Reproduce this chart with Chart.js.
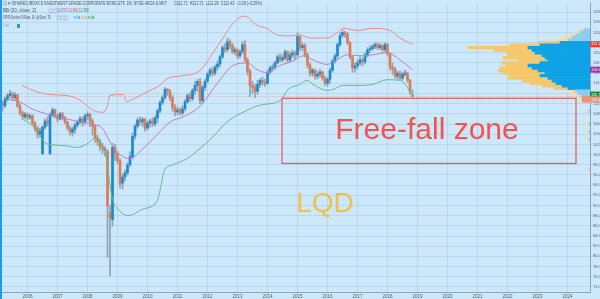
<!DOCTYPE html>
<html>
<head>
<meta charset="utf-8">
<script src="https://cdn.jsdelivr.net/npm/chart.js@4.4.0/dist/chart.umd.min.js"></script>
<style>
  html, body { margin: 0; padding: 0; background: #cde7fb; }
  canvas { display: block; }
</style>
</head>
<body>
<canvas id="chart" width="600" height="299"></canvas>
<script>
// months are counted from Jan 2005 (Jan 2006 = 12); first candle is Feb 2005
const firstMonth = 1;

const yearTicks = [12, 24, 36, 48, 60, 72, 84, 96, 108, 120, 132, 144, 156, 168, 180, 192, 204, 216, 228];
const yearLabels = ['2006', '2007', '2008', '2009', '2010', '2011', '2012', '2013', '2014', '2015',
                    '2016', '2017', '2018', '2019', '2020', '2021', '2022', '2023', '2024'];

// monthly OHLC, one row per year
const opens = [
  111.0, 110.0, 109.6, 110.9, 111.6, 112.0, 111.2, 111.7, 109.6, 108.2, 107.4,
  107.9, 107.3, 107.6, 106.2, 105.2, 104.0, 100.2, 105.4, 106.6, 100.2, 107.8, 108.8,
  107.6, 107.0, 108.0, 107.2, 106.4, 105.2, 104.4, 105.0, 105.8, 106.4, 107.0, 106.4,
  107.6, 107.9, 106.6, 105.6, 103.2, 102.6, 101.6, 101.2, 100.6, 88.6, 87.2, 101.4,
  100.2, 98.8, 94.4, 95.6, 96.4, 98.0, 99.6, 103.6, 105.6, 106.8, 106.4, 106.9,
  105.2, 106.2, 106.6, 106.0, 107.2, 108.6, 110.2, 111.2, 112.8, 112.4, 111.2, 109.2,
  108.4, 108.8, 108.2, 109.0, 110.4, 111.6, 111.0, 112.6, 113.6, 114.4, 110.6, 113.2,
  114.4, 115.8, 116.6, 116.0, 117.2, 117.8, 119.2, 121.0, 120.6, 122.2, 121.4, 120.2,
  120.6, 119.4, 120.2, 121.6, 118.6, 116.4, 113.6, 113.2, 112.4, 113.8, 114.6, 114.2,
  114.0, 116.2, 117.0, 117.2, 118.0, 119.2, 118.6, 119.0, 120.2, 118.6, 119.6, 120.0,
  119.6, 123.2, 121.0, 121.4, 119.6, 117.6, 116.0, 116.6, 115.4, 115.8, 116.2, 115.0,
  114.0, 114.8, 116.6, 118.4, 119.4, 121.6, 123.4, 124.0, 123.6, 122.0, 119.2, 117.0,
  117.4, 118.0, 118.6, 118.2, 119.6, 120.6, 120.8, 121.2, 121.6, 121.0, 121.4, 120.6,
  121.6, 119.8, 117.2, 116.8, 115.4, 116.0, 115.0, 115.8, 116.0, 114.6, 111.71
];
const highs = [
  111.6, 110.5, 111.3, 112.0, 112.6, 112.3, 112.2, 111.9, 110.0, 108.6, 108.3,
  108.2, 108.0, 107.8, 106.5, 105.5, 105.2, 105.6, 107.0, 107.4, 108.2, 109.2, 109.0,
  107.9, 108.3, 108.3, 107.5, 106.6, 105.6, 105.4, 106.2, 106.8, 107.5, 107.4, 108.0,
  108.4, 108.1, 107.0, 105.9, 103.8, 103.0, 102.2, 101.6, 101.0, 90.0, 102.2, 102.0,
  100.6, 99.2, 96.2, 97.0, 98.4, 100.6, 104.2, 106.0, 107.2, 107.4, 107.3, 107.1,
  106.6, 107.0, 107.2, 107.6, 109.0, 110.6, 111.6, 113.2, 113.0, 112.8, 111.6, 109.8,
  109.4, 109.2, 109.6, 110.8, 112.0, 112.2, 113.0, 114.4, 114.8, 115.0, 113.6, 114.8,
  116.2, 117.0, 117.2, 117.6, 118.4, 119.6, 121.4, 121.8, 122.9, 122.6, 121.8, 121.0,
  120.8, 120.6, 122.2, 122.4, 119.0, 116.8, 114.4, 113.8, 114.6, 115.0, 115.2, 114.8,
  116.6, 117.4, 117.8, 118.4, 119.6, 119.8, 119.6, 120.6, 120.4, 120.2, 120.6, 120.4,
  123.9, 123.4, 122.0, 121.8, 120.0, 118.0, 117.0, 116.8, 116.4, 116.8, 116.4, 115.4,
  115.2, 117.0, 118.8, 119.8, 122.0, 124.0, 124.4, 124.2, 124.0, 122.2, 119.4, 118.0,
  118.6, 119.2, 119.0, 120.0, 121.0, 121.4, 121.6, 122.0, 122.0, 121.8, 121.6, 122.0,
  121.8, 120.0, 118.0, 117.2, 116.4, 116.4, 116.2, 116.6, 116.2, 114.8, 112.71
];
const lows = [
  109.4, 108.6, 109.2, 110.5, 111.2, 110.6, 110.8, 109.2, 107.8, 107.0, 107.0,
  106.8, 106.9, 105.8, 104.6, 103.2, 103.4, 100.0, 105.0, 105.6, 100.0, 107.4, 107.2,
  106.4, 106.8, 106.8, 106.0, 104.8, 103.8, 103.6, 104.2, 105.4, 106.0, 105.6, 105.9,
  106.8, 105.5, 103.8, 102.4, 101.8, 100.8, 100.2, 99.8, 79.8, 76.2, 86.0, 98.8,
  98.2, 93.4, 93.2, 94.8, 96.0, 97.6, 99.2, 103.0, 105.2, 105.8, 105.6, 104.6,
  104.8, 105.4, 105.6, 105.6, 106.2, 108.2, 109.8, 110.8, 111.6, 110.6, 108.6, 107.6,
  107.8, 107.8, 107.8, 108.6, 110.0, 110.4, 110.6, 111.8, 112.4, 110.0, 110.0, 112.6,
  114.0, 115.2, 115.4, 115.6, 116.6, 117.2, 118.8, 120.0, 120.2, 120.8, 119.8, 119.6,
  118.8, 119.0, 119.8, 118.2, 115.6, 111.4, 112.0, 111.2, 111.8, 113.2, 113.6, 113.4,
  113.8, 115.8, 116.4, 116.8, 117.8, 118.2, 118.2, 118.6, 118.0, 118.2, 119.0, 118.6,
  119.2, 120.4, 120.4, 119.2, 117.0, 115.4, 115.4, 114.8, 114.8, 115.2, 114.6, 113.6,
  113.4, 114.0, 116.2, 118.0, 119.0, 121.2, 123.0, 123.0, 121.6, 118.8, 116.2, 116.2,
  116.8, 117.6, 117.4, 117.8, 119.2, 120.0, 120.4, 120.8, 120.6, 120.6, 120.0, 120.2,
  119.4, 116.6, 115.8, 115.0, 114.8, 114.6, 114.6, 115.4, 114.2, 111.8, 111.28
];
const closes = [
  110.0, 109.6, 110.9, 111.6, 112.0, 111.2, 111.7, 109.6, 108.2, 107.4, 107.9,
  107.3, 107.6, 106.2, 105.2, 104.0, 104.6, 105.4, 106.6, 106.0, 107.8, 108.8, 107.6,
  107.0, 108.0, 107.2, 106.4, 105.2, 104.4, 105.0, 105.8, 106.4, 107.0, 106.4, 107.6,
  107.9, 106.6, 105.6, 103.2, 102.6, 101.6, 101.2, 100.8, 89.9, 87.6, 101.4, 100.2,
  98.8, 94.4, 95.6, 96.4, 98.0, 99.6, 103.6, 105.6, 106.8, 106.4, 106.9, 105.2,
  106.2, 106.6, 106.0, 107.2, 108.6, 110.2, 111.2, 112.8, 112.4, 111.2, 109.2, 108.4,
  108.8, 108.2, 109.0, 110.4, 111.6, 111.0, 112.6, 113.6, 114.4, 110.6, 113.2, 114.4,
  115.8, 116.6, 116.0, 117.2, 117.8, 119.2, 121.0, 120.6, 122.2, 121.4, 120.2, 120.6,
  119.4, 120.2, 121.6, 118.6, 116.4, 113.6, 113.2, 112.4, 113.8, 114.6, 114.2, 114.0,
  116.2, 117.0, 117.2, 118.0, 119.2, 118.6, 119.0, 120.2, 118.6, 119.6, 120.0, 119.6,
  123.2, 121.0, 121.4, 119.6, 117.6, 116.0, 116.6, 115.4, 115.8, 116.2, 115.0, 114.0,
  114.8, 116.6, 118.4, 119.4, 121.6, 123.4, 124.0, 123.6, 122.0, 119.2, 117.0, 117.4,
  118.0, 118.6, 118.2, 119.6, 120.6, 120.8, 121.2, 121.6, 121.0, 121.4, 120.6, 121.6,
  119.8, 117.2, 116.8, 115.4, 116.0, 115.0, 115.8, 116.0, 114.6, 112.4, 111.43
];

// Bollinger bands (month, price)
const bbUpperM = [9.8, 14.2, 21, 27.8, 33, 38.2, 42.2, 43.8, 45, 50.2, 51.8, 54.2, 61, 65, 67.8, 74.2, 81, 86.2,
                  90.2, 94.2, 99, 103.8, 107.8, 111.8, 117, 121, 125, 131.8, 135.8, 138.2, 143.8, 150.2, 157, 161, 166];
const bbUpperP = [113.6, 112.6, 111.8, 111.6, 110.7, 108.7, 108.3, 109.3, 111.6, 111.8, 110.4, 110.9, 112.6, 113.6,
                  114.9, 115.5, 116.5, 120.0, 122.9, 125.8, 127.2, 125.4, 124.8, 123.5, 123.3, 123.5, 122.9, 122.9,
                  123.9, 124.8, 124.4, 124.8, 124.4, 122.9, 121.67];
const bbMidM = [4.2, 9, 14.2, 21, 27.8, 33, 38.2, 42.2, 45, 49, 53, 57, 61, 65, 69, 74.2, 81, 89, 94.2, 99.8,
                103.8, 107.8, 113, 118.2, 122.2, 126.2, 131.8, 135.8, 139.8, 145, 150.2, 155.8, 161, 166];
const bbMidP = [110.9, 110.3, 108.9, 107.8, 107.0, 106.4, 106.0, 105.0, 102.5, 100.0, 99.2, 100.6, 102.5, 104.5,
                106.4, 107.4, 109.5, 114.7, 117.5, 118.0, 116.7, 116.1, 117.5, 118.4, 119.4, 118.6, 117.7, 118.6,
                119.6, 119.4, 119.6, 120.0, 118.6, 116.68];
const bbLowM = [9.8, 14.2, 15.8, 19.8, 22.2, 27.8, 31.8, 35.8, 39.8, 41.8, 43.8, 45, 46.2, 47.8, 52.2, 58.2, 63.8,
                65.4, 66.6, 70.2, 75.8, 81, 87, 91.8, 99.8, 105, 113.8, 115.8, 121, 123.8, 126.2, 131.8, 134.2,
                138.2, 145, 150.2, 155.8, 161, 166];
const bbLowP = [107.0, 105.6, 104.5, 102.1, 101.9, 101.7, 101.4, 102.1, 103.5, 101.6, 98.6, 93.8, 90.9, 89.5, 88.0,
                89.3, 90.9, 93.8, 96.7, 98.0, 99.2, 101.2, 103.9, 106.4, 108.7, 109.7, 110.9, 112.6, 113.8, 114.6,
                113.8, 112.6, 112.8, 113.6, 113.6, 113.8, 114.7, 114.6, 111.79];

// volume profile rows: price, up volume, down volume
const vpPrice = [124.5, 124.0, 123.5, 123.0, 122.5, 122.0, 121.5, 121.0, 120.5, 120.0, 119.5, 119.0, 118.5, 118.0,
                 117.5, 117.0, 116.5, 116.0, 115.5, 115.0, 114.5, 114.0, 113.5, 113.0, 112.5, 112.0, 111.5, 111.0,
                 110.5, 108.5, 106.0, 104.5, 103.0, 97.0];
const vpUp = [6, 10, 14, 18, 22, 30, 50, 62, 58, 55, 48, 45, 42, 50, 62, 58, 52, 45, 50, 42, 38, 34, 28, 22, 15, 12,
              9, 6, 4, 1, 1, 1, 1, 0];
const vpDown = [3, 4, 6, 8, 12, 22, 30, 60, 38, 28, 35, 42, 30, 38, 22, 32, 40, 42, 30, 40, 30, 26, 20, 14, 8, 6,
                5, 4, 3, 2, 4, 3, 2, 2];
const vaHigh = 122.2, vaLow = 112.8;

// hand-drawn annotation zone (months / price)
const zoneFrom = 113.8, zoneTo = 231.4, zoneTop = 111.06, zoneBottom = 98.25;

const lastPrice = 111.43;
const bandLast = { upper: 121.668, middle: 116.6796, lower: 111.788 };

const upColor = '#1b8bd0';
const downColor = '#e27a50';
const wickColor = '#8fa3b2';

const months = opens.map((_, i) => firstMonth + i);
const wickData = months.map((m, i) => ({ x: m, y: [lows[i], highs[i]] }));
const bodyData = months.map((m, i) => ({ x: m, y: [opens[i], closes[i]] }));
const toPoints = (ms, ps) => ms.map((m, i) => ({ x: m, y: ps[i] }));

const inVA = p => p >= vaLow && p <= vaHigh;
const vpUpData = vpPrice.map((p, i) => ({ y: p, x: [0, vpUp[i]] }));
const vpDownData = vpPrice.map((p, i) => ({ y: p, x: [vpUp[i], vpUp[i] + vpDown[i]] }));

const background = {
    id: 'background',
    beforeDraw(chart) {
        const { ctx, width, height } = chart;
        ctx.save();
        ctx.fillStyle = '#cde7fb';
        ctx.fillRect(0, 0, width, height);
        ctx.restore();
    }
};

const overlay = {
    id: 'overlay',
    afterDatasetsDraw(chart) {
        const { ctx, scales: { x, y } } = chart;
        ctx.save();

        // last price line
        const ly = Math.round(y.getPixelForValue(lastPrice)) + 0.5;
        ctx.strokeStyle = 'rgba(236,130,110,0.4)';
        ctx.lineWidth = 1;
        ctx.setLineDash([1, 1]);
        ctx.beginPath();
        ctx.moveTo(chart.chartArea.left, ly);
        ctx.lineTo(chart.chartArea.right, ly);
        ctx.stroke();
        ctx.setLineDash([]);

        // free-fall zone box
        const l = x.getPixelForValue(zoneFrom), r = x.getPixelForValue(zoneTo);
        const t = y.getPixelForValue(zoneTop), b = y.getPixelForValue(zoneBottom);
        ctx.strokeStyle = '#e9615d';
        ctx.lineWidth = 1.3;
        ctx.strokeRect(l, t, r - l, b - t);

        ctx.fillStyle = '#f2544e';
        ctx.font = '30px "Liberation Sans", Arial, sans-serif';
        ctx.textAlign = 'center';
        ctx.textBaseline = 'alphabetic';
        ctx.fillText('Free-fall zone', (l + r) / 2 - 2, 139);

        ctx.fillStyle = '#f0c048';
        ctx.font = '28px "Liberation Sans", Arial, sans-serif';
        ctx.fillText('LQD', 325, 212);
        ctx.restore();
    },
    afterDraw(chart) {
        const { ctx, scales: { y } } = chart;
        ctx.save();

        // left edge strip
        ctx.fillStyle = '#1d9be8';
        ctx.fillRect(0, 0, 2, chart.height);

        // legend text lines
        ctx.textBaseline = 'middle';
        ctx.textAlign = 'left';
        ctx.font = '4.5px "Liberation Sans", Arial, sans-serif';
        ctx.fillStyle = '#4d5660';
        ctx.fillText('\u24D8 \u25BE ISHARES IBOXX $ INVESTMENT GRADE CORPORATE BOND ETF, 1M, NYSE ARCA & MKT', 3, 4, 164);
        ctx.fillText('O111.71  H112.71  L111.28  C111.43  \u22120.28 (\u22120.25%)', 174, 4, 88);
        ctx.fillText('BB (20, close, 2)', 3, 11, 40);
        ctx.fillStyle = '#a05ab8'; ctx.fillText('116.6796', 57, 11, 10);
        ctx.fillStyle = '#e8505a'; ctx.fillText('121.6680', 68, 11, 10);
        ctx.fillStyle = '#2e9a55'; ctx.fillText('111.7880', 79, 11, 10);
        ctx.fillStyle = '#4d5660';
        ctx.fillText('VPVR (Number Of Rows, 24, Up/Down, 70)', 3, 18, 48);
        ctx.fillStyle = '#1c98dc'; ctx.fillText('n/a', 74, 18);
        ctx.fillStyle = '#e0a83a'; ctx.fillText('n/a', 81, 18);
        ctx.fillStyle = '#2e9a55'; ctx.fillText('n/a', 88, 18);
        ctx.fillStyle = 'rgba(110,130,150,0.6)';
        ctx.fillText('Vol \u2026', 3, 26);
        ctx.fillStyle = '#2f93dc';
        ctx.fillRect(17, 24, 3, 4);
        ctx.strokeStyle = 'rgba(120,140,160,0.6)';
        ctx.lineWidth = 0.5;
        [[52, 9], [56, 9], [60, 16], [64, 16], [68, 16]].forEach(([bx, by]) => ctx.strokeRect(bx - 3, by, 3, 4));

        // price tags on the right axis
        const tags = [
            [bandLast.upper, '#f03c3c', 0],
            [bandLast.middle, '#9b2fae', 0],
            [bandLast.lower, '#1f8a3c', 0],
            [lastPrice, '#f39072', 3]
        ];
        ctx.font = '4px "Liberation Sans", Arial, sans-serif';
        tags.forEach(([v, c, shift]) => {
            const ty = y.getPixelForValue(v) + shift;
            const x0 = shift ? 582 : 590;
            ctx.fillStyle = c;
            ctx.fillRect(x0, ty - 3, 600 - x0, 6);
            ctx.fillStyle = '#ffffff';
            ctx.fillText(v.toFixed(2), 591, ty);
        });
        ctx.restore();
    }
};

new Chart(document.getElementById('chart'), {
    type: 'bar',
    data: {
        datasets: [
            {
                type: 'line', data: toPoints(bbUpperM, bbUpperP), xAxisID: 'x', yAxisID: 'y',
                borderColor: '#f08a8c', borderWidth: 1, pointRadius: 0, cubicInterpolationMode: 'monotone', order: 2
            },
            {
                type: 'line', data: toPoints(bbMidM, bbMidP), xAxisID: 'x', yAxisID: 'y',
                borderColor: '#bb7fcb', borderWidth: 1, pointRadius: 0, cubicInterpolationMode: 'monotone', order: 2
            },
            {
                type: 'line', data: toPoints(bbLowM, bbLowP), xAxisID: 'x', yAxisID: 'y',
                borderColor: '#5dbf8c', borderWidth: 1, pointRadius: 0, cubicInterpolationMode: 'monotone', order: 2
            },
            {
                data: wickData, xAxisID: 'x', yAxisID: 'y', grouped: false,
                backgroundColor: wickColor, barThickness: 1, order: 4
            },
            {
                data: bodyData, xAxisID: 'x', yAxisID: 'y', grouped: false,
                backgroundColor: ctx => closes[ctx.dataIndex] >= opens[ctx.dataIndex] ? upColor : downColor,
                barThickness: 2, minBarLength: 0.5, order: 3
            },
            {
                data: vpUpData, indexAxis: 'y', xAxisID: 'xVol', yAxisID: 'y', grouped: false,
                backgroundColor: ctx => inVA(vpPrice[ctx.dataIndex]) ? '#0ea2e6' : 'rgba(130,200,242,0.8)',
                barThickness: 2.6, order: 6
            },
            {
                data: vpDownData, indexAxis: 'y', xAxisID: 'xVol', yAxisID: 'y', grouped: false,
                backgroundColor: ctx => inVA(vpPrice[ctx.dataIndex]) ? '#f6c86c' : 'rgba(240,222,160,0.85)',
                barThickness: 2.6, order: 6
            }
        ]
    },
    options: {
        responsive: false,
        animation: false,
        devicePixelRatio: 1,
        layout: { padding: 0 },
        plugins: { legend: { display: false }, tooltip: { enabled: false } },
        scales: {
            x: {
                type: 'linear', min: 1, max: 237, offset: false,
                grid: { color: 'rgba(150,195,228,0.4)', offset: false, tickLength: 2 },
                border: { color: '#8fa6b6' },
                ticks: {
                    autoSkip: false, maxRotation: 0, padding: 0, color: '#56626e',
                    font: { size: 4.5, family: '"Liberation Sans", Arial, sans-serif' },
                    callback: v => yearLabels[yearTicks.indexOf(v)] || ''
                },
                afterBuildTicks: s => { s.ticks = yearTicks.map(v => ({ value: v })); },
                afterFit: s => { s.height = 7; }
            },
            xVol: { type: 'linear', axis: 'x', display: false, min: 0, max: 590, reverse: true, offset: false },
            y: {
                type: 'linear', position: 'right', min: 73.0, max: 129.7, offset: false,
                grid: { color: 'rgba(150,195,228,0.4)', offset: false, tickLength: 2 },
                border: { color: '#8fa6b6' },
                ticks: {
                    stepSize: 2, includeBounds: false, padding: 1, color: '#56626e',
                    font: { size: 4, family: '"Liberation Sans", Arial, sans-serif' },
                    callback: v => v.toFixed(2)
                },
                afterFit: s => { s.width = 10; }
            }
        }
    },
    plugins: [background, overlay]
});
</script>
</body>
</html>
